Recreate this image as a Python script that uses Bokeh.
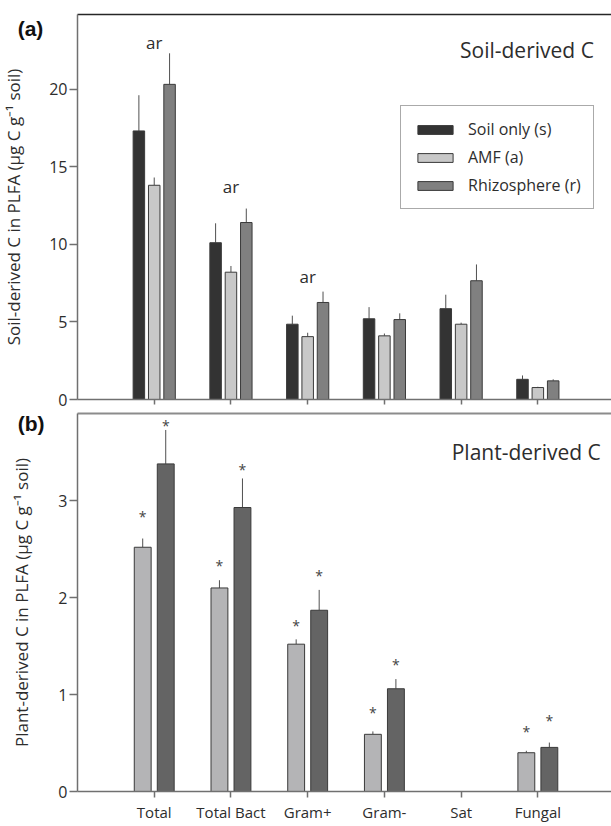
from bokeh.plotting import figure
from bokeh.layouts import column
from bokeh.models import (ColumnDataSource, FixedTicker, LinearAxis, Legend,
                          LegendItem, Label, Range1d, Title)
from bokeh.core.properties import value
from bokeh.embed import file_html
from bokeh.resources import INLINE

# ---------------- data ----------------
categories = ["Total", "Total Bact", "Gram+", "Gram-", "Sat", "Fungal"]
cat_pos = [1, 2, 3, 4, 5, 6]

# panel (a): soil-derived C
soil_only = [17.3, 10.1, 4.85, 5.2, 5.85, 1.3]
soil_only_se = [2.3, 1.25, 0.55, 0.75, 0.9, 0.25]
amf_soil = [13.8, 8.2, 4.05, 4.1, 4.85, 0.77]
amf_soil_se = [0.5, 0.4, 0.25, 0.15, 0.1, 0.05]
rhizo_soil = [20.3, 11.4, 6.25, 5.15, 7.65, 1.2]
rhizo_soil_se = [2.0, 0.9, 0.7, 0.4, 1.05, 0.1]
soil_sig_text = ["ar", "ar", "ar"]
soil_sig_cat = [1, 2, 3]
soil_sig_y = [22.97, 13.7, 7.9]

# panel (b): plant-derived C (no Sat values)
amf_plant = [2.52, 2.10, 1.52, 0.59, None, 0.40]
amf_plant_se = [0.09, 0.08, 0.05, 0.03, None, 0.02]
rhizo_plant = [3.38, 2.93, 1.87, 1.06, None, 0.455]
rhizo_plant_se = [0.35, 0.30, 0.21, 0.10, None, 0.05]
amf_star_y = [2.84, 2.33, 1.71, 0.81, None, 0.62]
rhizo_star_y = [3.78, 3.32, 2.23, 1.31, None, 0.73]

FONT = "Open Sans"
TXT = "#2d2d2d"
AX = "#707070"
XMAX = 6.96


def bar_source(vals, se, offset):
    xs, tops, errs = [], [], []
    for p, v, s in zip(cat_pos, vals, se):
        if v is None:
            continue
        xs.append(p + offset)
        tops.append(v)
        errs.append(v + s)
    return ColumnDataSource(dict(x=xs, top=tops, err=errs))


def star_source(ys, offset):
    xs, yy = [], []
    for p, y in zip(cat_pos, ys):
        if y is None:
            continue
        xs.append(p + offset)
        yy.append(y)
    return ColumnDataSource(dict(x=xs, y=yy, t=["*"] * len(xs)))


def style_axes(p, yticks, xlabels):
    p.xaxis.ticker = FixedTicker(ticks=cat_pos)
    p.yaxis.ticker = FixedTicker(ticks=yticks)
    for ax in (p.xaxis[0], p.yaxis[0]):
        ax.axis_line_color = AX
        ax.axis_line_width = 1.5
        ax.major_tick_line_color = AX
        ax.major_tick_line_width = 1.5
        ax.major_tick_in = 0
        ax.minor_tick_line_color = None
        ax.major_label_text_color = TXT
        ax.major_label_text_font = FONT
    p.yaxis.major_label_text_font_size = "16px"
    p.xaxis.major_label_text_font_size = "15px"
    p.yaxis.major_tick_out = 8
    p.yaxis.major_label_standoff = 2
    p.xaxis.major_tick_out = 6
    if xlabels:
        p.xaxis.major_label_overrides = {c: n for c, n in zip(cat_pos, categories)}
        p.xaxis.major_label_standoff = 4
    else:
        p.xaxis.major_label_text_font_size = "1px"
        p.xaxis.major_label_text_color = None
        p.xaxis.major_label_standoff = 0
        p.xaxis.major_tick_out = 5
    p.xgrid.grid_line_color = None
    p.ygrid.grid_line_color = None


def top_border(p, color, width):
    ax = LinearAxis(ticker=FixedTicker(ticks=[]), axis_line_color=color,
                    axis_line_width=width, major_tick_line_color=None,
                    minor_tick_line_color=None, major_label_text_font_size="1px",
                    major_label_text_color=None, major_label_standoff=0)
    p.add_layout(ax, "above")


def side_texts(p, tag, tag_y, ylabel):
    # panel tag, placed in the left side panel so it is not clipped by the frame
    p.add_layout(Label(x=-0.78, y=tag_y, text=tag, text_align="left",
                       text_baseline="middle", text_font="Liberation Sans",
                       text_font_style="bold", text_font_size="21px",
                       text_color="#111111"), "left")
    p.add_layout(Title(text=ylabel, align="center", text_font=FONT,
                       text_font_style="normal", text_font_size="17px",
                       text_color=TXT, standoff=-9, offset=0), "left")


# ---------------- panel (a) ----------------
p1 = figure(width=611, height=410, x_range=Range1d(0, XMAX), y_range=Range1d(0, 24.8),
            output_backend="svg", toolbar_location=None, min_border_left=77,
            min_border_right=0, min_border_top=14, min_border_bottom=11,
            outline_line_color=None, background_fill_color="white")
style_axes(p1, [0, 5, 10, 15, 20], False)
top_border(p1, "#262626", 1.5)
side_texts(p1, "(a)", 23.9, "Soil-derived C in PLFA (\u03bcg C g\u207b\u00b9 soil)")

series_a = [("Soil only (s)", soil_only, soil_only_se, -0.2, "#333333"),
            ("AMF (a)", amf_soil, amf_soil_se, 0.0, "#c8c8c8"),
            ("Rhizosphere (r)", rhizo_soil, rhizo_soil_se, 0.2, "#808080")]
items = []
for name, vals, se, off, col in series_a:
    src = bar_source(vals, se, off)
    p1.segment(x0="x", y0="top", x1="x", y1="err", source=src,
               line_color="#505050", line_width=1)
    r = p1.vbar(x="x", top="top", bottom=0, width=0.15, source=src,
                fill_color=col, line_color="#3a3a3a", line_width=1)
    items.append(LegendItem(label=name, renderers=[r]))

sig_src = ColumnDataSource(dict(x=soil_sig_cat, y=soil_sig_y, t=soil_sig_text))
p1.text(x="x", y="y", text="t", source=sig_src, text_align="center",
        text_baseline="alphabetic", text_font=value(FONT), text_font_size="17px",
        text_color=TXT)

legend = Legend(items=items, location=(323, 190), glyph_width=44, glyph_height=11,
                label_text_font=FONT, label_text_font_size="16px",
                label_text_color=TXT, label_standoff=11, label_height=20,
                spacing=6, padding=12, margin=0, border_line_color="#555555",
                border_line_width=1, background_fill_alpha=1)
p1.add_layout(legend)

p1.add_layout(Label(x=6.73, y=22.5, text="Soil-derived C", text_align="right",
                    text_baseline="middle", text_font=FONT, text_font_size="21px",
                    text_color=TXT))

# ---------------- panel (b) ----------------
p2 = figure(width=611, height=414, x_range=Range1d(0, XMAX), y_range=Range1d(0, 3.9),
            output_backend="svg", toolbar_location=None, min_border_left=77,
            min_border_right=0, min_border_top=3, min_border_bottom=0,
            outline_line_color=None, background_fill_color="white")
style_axes(p2, [0, 1, 2, 3], True)
top_border(p2, "#8c8c8c", 2)
side_texts(p2, "(b)", 3.8, "Plant-derived C in PLFA (\u03bcg C g\u207b\u00b9 soil)")

series_b = [(amf_plant, amf_plant_se, amf_star_y, -0.15, "#b4b4b6"),
            (rhizo_plant, rhizo_plant_se, rhizo_star_y, 0.15, "#646464")]
for vals, se, stars, off, col in series_b:
    src = bar_source(vals, se, off)
    p2.segment(x0="x", y0="top", x1="x", y1="err", source=src,
               line_color="#505050", line_width=1)
    p2.vbar(x="x", top="top", bottom=0, width=0.22, source=src,
            fill_color=col, line_color="#3a3a3a", line_width=1)
    p2.text(x="x", y="y", text="t", source=star_source(stars, off),
            text_align="center", text_baseline="middle", text_font=value(FONT),
            text_font_size="14px", text_color="#444444")

p2.add_layout(Label(x=6.82, y=3.5, text="Plant-derived C", text_align="right",
                    text_baseline="middle", text_font=FONT, text_font_size="21px",
                    text_color=TXT))

layout = column(p1, p2, spacing=0)
open("out.html", "w").write(file_html(layout, INLINE))
